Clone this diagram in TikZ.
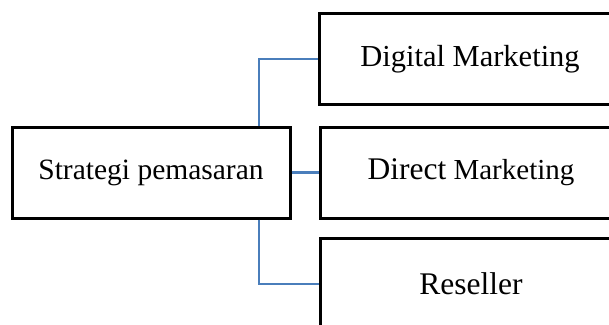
\documentclass[tikz,border=0pt]{standalone}
\usepackage{fontspec}
\setmainfont{Liberation Serif}
\usetikzlibrary{positioning,calc}
\definecolor{linkblue}{HTML}{4A7EBB}

\begin{document}
\begin{tikzpicture}[x=1pt, y=-1pt,
        box/.style={draw, line width=3pt, fill=white, inner sep=0pt, minimum height=91pt},
        link/.style={draw=linkblue, line width=2.5pt}]
  \useasboundingbox (0,0) rectangle (609,324);
  \clip (0,0) rectangle (609,324);

  % boxes
  \node[box, minimum width=278pt, font=\fontsize{29.5}{34}\selectfont] (strat) at (151,172.5) {Strategi pemasaran};
  \node[box, minimum width=302pt, font=\fontsize{30.5}{35}\selectfont] (digital) at (470,59) {Digital Marketing};
  \node[box, minimum width=302pt, font=\fontsize{29}{34}\selectfont] (direct) at (471,172.5) {{\fontsize{31.5}{36}\selectfont Direct} Marketing};
  \node[box, minimum width=302pt, minimum height=92pt, font=\fontsize{31.5}{36}\selectfont] (reseller) at (471,284) {Reseller};

  % connectors
  \coordinate (trunk) at (259,172);
  \draw[link] (trunk |- strat.north) |- (digital.west);
  \draw[link] (strat.east) -- (direct.west);
  \draw[link] (trunk |- strat.south) |- (reseller.west);
\end{tikzpicture}
\end{document}
